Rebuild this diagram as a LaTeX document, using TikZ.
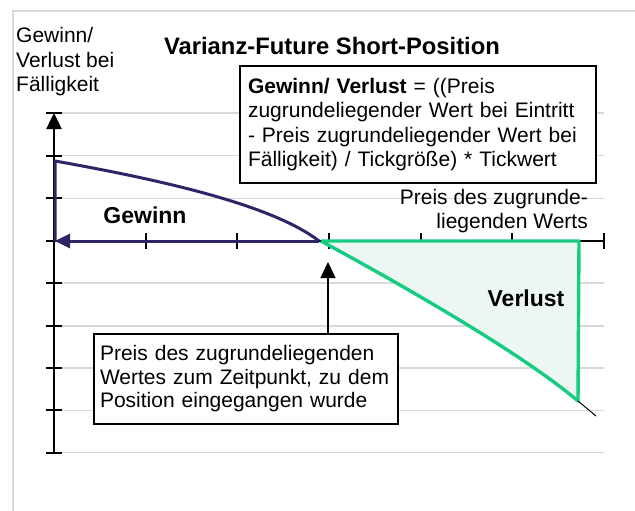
\documentclass[tikz,border=0pt]{standalone}
\usepackage{fontspec}
\setmainfont{Liberation Sans}
\usetikzlibrary{arrows.meta}
\definecolor{navy}{RGB}{45,38,102}
\definecolor{vgreen}{RGB}{22,204,128}
\definecolor{vfill}{RGB}{236,247,243}
\definecolor{gridc}{RGB}{217,217,217}
\tikzset{
  txt/.style={font=\fontsize{21}{24.5}\selectfont, inner sep=0pt},
  btxt/.style={font=\fontsize{23}{26}\selectfont\bfseries, inner sep=0pt},
  gridline/.style={draw=gridc, line width=1.6pt},
  axisline/.style={draw=black, line width=2.4pt},
  tickline/.style={draw=black, line width=1.8pt},
  infobox/.style={draw=black, line width=1.5pt, fill=white, align=left, inner ysep=0pt},
  bigtip/.style={-{Triangle[length=16pt,width=15pt]}},
}
\begin{document}
\begin{tikzpicture}[x=1pt,y=-1pt]
\useasboundingbox (0,0) rectangle (635,511);
% outer frame
\draw[gridc, line width=1.6pt] (13,511) -- (13,11) -- (635,11);
% grid
\foreach \yy in {113,155.6,198.3,283,325.7,368,410.3,452.6}
  \draw[gridline] (54,\yy) -- (604,\yy);
% y axis ticks
\foreach \yy in {113,155.6,198.3,241,283,325.7,368,410.3,452.6}
  \draw[tickline] (46,\yy) -- (62,\yy);
% x axis ticks
\foreach \xx in {145.7,237.3,329,420.7,512.3,604}
  \draw[tickline] (\xx,233) -- (\xx,249);
% axes
\coordinate (o) at (54,241);
\coordinate (ytop) at (54,113);
\coordinate (ybot) at (54,452.6);
\coordinate (xend) at (604,241);
\draw[axisline] (o) -- (xend);
\draw[axisline, bigtip] (ybot) -- (ytop);
% loss area
\coordinate (k) at (321,241);
\coordinate (lr) at (579,241);
\coordinate (lb) at (578,401);
\coordinate (lt) at (596,416);
\fill[vfill] (k) -- (lr) -- (lb) .. controls (520,352) and (400,284) .. (k) -- cycle;
\draw[vgreen, line width=3.4pt, line join=round] (k) -- (lr) -- (lb) .. controls (520,352) and (400,284) .. (k);
\draw[black, line width=1pt] (lb) -- (lt);
% gain area
\coordinate (g0) at (55,241);
\coordinate (g1) at (55,161);
\coordinate (gk) at (319,241);
\draw[navy, line width=3pt, line join=round] (g0) -- (g1) .. controls (150,178) and (270,203) .. (gk);
\draw[navy, line width=3pt, -{Triangle[length=15pt,width=14pt]}] (gk) -- (g0);
% labels
\node[btxt, font=\fontsize{23.8}{26}\selectfont\bfseries] (title) at (332,46) {Varianz-Future Short-Position};
\node[txt, align=left, anchor=west] (ylab) at (16,62) {Gewinn/\\Verlust bei\\Fälligkeit};
\node[txt, align=right, anchor=east] (xlab) at (588,211) {Preis des zugrunde-\\liegenden Werts};
\node[btxt] (gain) at (145,215) {Gewinn};
\node[btxt] (loss) at (526,298) {Verlust};
% formula box
\node[infobox, txt, inner xsep=8pt, inner ysep=0pt, text width=340pt, minimum height=117pt] (formula) at (418,124.5)
  {\textbf{Gewinn/ Verlust} = ((Preis\\zugrundeliegender Wert bei Eintritt\\- Preis zugrundeliegender Wert bei\\Fälligkeit) / Tickgröße) * Tickwert};
% entry price box
\node[infobox, font=\fontsize{21}{23.5}\selectfont, inner xsep=6pt, text width=292pt, minimum height=90pt] (entry) at (246,379)
  {Preis des zugrundeliegenden\\Wertes zum Zeitpunkt, zu dem\\Position eingegangen wurde};
\coordinate (tip) at (328,262);
\draw[line width=1.6pt, -{Triangle[length=16pt,width=15pt]}] (entry.north -| tip) -- (tip);
\end{tikzpicture}
\end{document}
